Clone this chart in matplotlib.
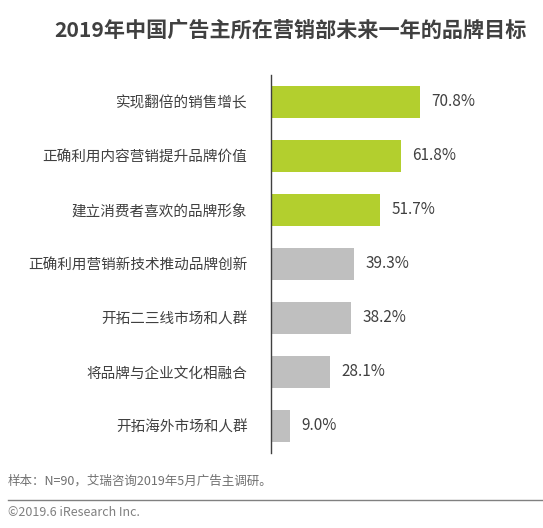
import matplotlib
matplotlib.use("Agg")
import matplotlib.pyplot as plt
from matplotlib.lines import Line2D

plt.rcParams['font.family'] = ['Noto Sans CJK SC', 'DejaVu Sans']

categories = ["实现翻倍的销售增长", "正确利用内容营销提升品牌价值", "建立消费者喜欢的品牌形象",
              "正确利用营销新技术推动品牌创新", "开拓二三线市场和人群", "将品牌与企业文化相融合",
              "开拓海外市场和人群"]
values = [70.8, 61.8, 51.7, 39.3, 38.2, 28.1, 9.0]
highlight = [True, True, True, False, False, False, False]

green = "#B3CF2E"
gray = "#BFBFBF"
text_color = "#404040"

fig = plt.figure(figsize=(5.43, 5.28), dpi=100)
ax = fig.add_axes([271/543, 1-453/528, (540-271)/543, (453-75)/528])

ypos = list(range(len(categories)))
colors = [green if h else gray for h in highlight]
ax.barh(ypos, values, height=0.61, color=colors, zorder=2)
for y, v in zip(ypos, values):
    ax.text(v + 5.5, y, f"{v:.1f}%", va="center", ha="left", fontsize=11, color=text_color)

ax.set_ylim(len(categories) - 0.5, -0.5)
ax.set_xlim(0, 128)
ax.set_yticks(ypos)
ax.set_yticklabels(categories, fontsize=10.5, color=text_color)
ax.tick_params(axis="y", length=0, pad=17)
ax.set_xticks([])
for s in ["top", "right", "bottom"]:
    ax.spines[s].set_visible(False)
ax.spines["left"].set_color("#404040")
ax.spines["left"].set_linewidth(1.0)

fig.text(290/543, 1-30/528, "2019年中国广告主所在营销部未来一年的品牌目标", ha="center", va="center",
         fontsize=15.2, fontweight="bold", color=text_color)
fig.text(8/543, 1-481/528, "样本：N=90，艾瑞咨询2019年5月广告主调研。", ha="left", va="center",
         fontsize=9, color="#707070")
fig.add_artist(Line2D([8/543, 1.0], [1-500/528, 1-500/528], color="#808080", linewidth=1.0))
fig.text(8/543, 1-513/528, "©2019.6 iResearch Inc.", ha="left", va="center",
         fontsize=9, color="#808080")

fig.savefig("out.png", dpi=100)
